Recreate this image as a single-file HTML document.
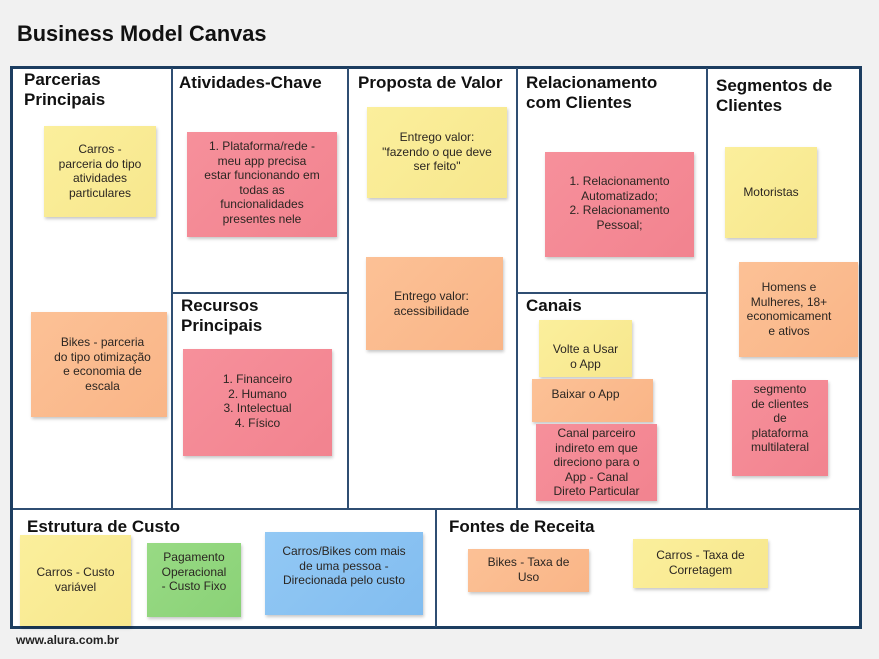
<!DOCTYPE html>
<html>
<head>
<meta charset="utf-8">
<style>
  html,body{margin:0;padding:0;}
  body{width:879px;height:659px;background:#f1f1f1;position:relative;overflow:hidden;font-family:"Liberation Sans",Arial,sans-serif;}
  .abs{position:absolute;}
  .title{position:absolute;left:17px;top:21px;font-size:21.8px;line-height:26px;font-weight:bold;color:#111;white-space:nowrap;}
  .canvas{position:absolute;left:10px;top:66px;width:852px;height:563px;box-sizing:border-box;border:3px solid #1c3d60;background:#fff;}
  .vl{position:absolute;width:2px;background:#2f4e72;}
  .hl{position:absolute;height:2px;background:#2f4e72;}
  .h{position:absolute;font-size:17px;line-height:20px;font-weight:bold;color:#111;white-space:nowrap;}
  .n{position:absolute;box-sizing:border-box;text-align:center;font-size:12px;line-height:14.5px;color:#2b2622;white-space:nowrap;box-shadow:1px 2px 3px rgba(0,0,0,0.22);}
  .y{background:linear-gradient(135deg,#fbef9c,#f7e78d);}
  .r{background:linear-gradient(135deg,#f6909b,#f2838f);}
  .o{background:linear-gradient(135deg,#fcc196,#f9b587);}
  .g{background:linear-gradient(135deg,#98da84,#8ad277);}
  .b{background:linear-gradient(135deg,#92c8f4,#82bdf0);}
  .foot{position:absolute;left:16px;top:633px;font-size:12px;line-height:14px;font-weight:bold;color:#222;white-space:nowrap;}
</style>
</head>
<body>
<div class="title">Business Model Canvas</div>

<div class="canvas"></div>
<!-- vertical dividers top section -->
<div class="vl" style="left:171px;top:68px;height:441px;"></div>
<div class="vl" style="left:347px;top:68px;height:441px;"></div>
<div class="vl" style="left:516px;top:68px;height:441px;"></div>
<div class="vl" style="left:706px;top:68px;height:441px;"></div>
<!-- horizontal divider -->
<div class="hl" style="left:13px;top:508px;width:847px;"></div>
<!-- mid dividers -->
<div class="hl" style="left:172px;top:292px;width:176px;"></div>
<div class="hl" style="left:517px;top:292px;width:190px;"></div>
<!-- bottom vertical -->
<div class="vl" style="left:435px;top:509px;height:118px;"></div>

<!-- headings -->
<div class="h" style="left:24px;top:70px;">Parcerias<br>Principais</div>
<div class="h" style="left:179px;top:72.5px;">Atividades-Chave</div>
<div class="h" style="left:358px;top:72.5px;">Proposta de Valor</div>
<div class="h" style="left:526px;top:73px;">Relacionamento<br>com Clientes</div>
<div class="h" style="left:716px;top:76px;">Segmentos de<br>Clientes</div>
<div class="h" style="left:181px;top:295.5px;">Recursos<br>Principais</div>
<div class="h" style="left:526px;top:296px;">Canais</div>
<div class="h" style="left:27px;top:517px;">Estrutura de Custo</div>
<div class="h" style="left:449px;top:517px;">Fontes de Receita</div>

<!-- notes -->
<div class="n y" style="left:44px;top:126px;width:112px;height:91px;padding-top:16px;">Carros -<br>parceria do tipo<br>atividades<br>particulares</div>
<div class="n r" style="left:187px;top:132px;width:150px;height:105px;padding-top:7px;">1. Plataforma/rede -<br>meu app precisa<br>estar funcionando em<br>todas as<br>funcionalidades<br>presentes nele</div>
<div class="n y" style="left:367px;top:107px;width:140px;height:91px;padding-top:23px;">Entrego valor:<br>"fazendo o que deve<br>ser feito"</div>
<div class="n o" style="left:366px;top:257px;width:137px;height:93px;padding-top:32px;padding-right:6px;">Entrego valor:<br>acessibilidade</div>
<div class="n o" style="left:31px;top:312px;width:136px;height:105px;padding-top:23px;padding-left:7px;">Bikes - parceria<br>do tipo otimização<br>e economia de<br>escala</div>
<div class="n r" style="left:183px;top:349px;width:149px;height:107px;padding-top:23px;">1. Financeiro<br>2. Humano<br>3. Intelectual<br>4. Físico</div>
<div class="n r" style="left:545px;top:152px;width:149px;height:105px;padding-top:22px;">1. Relacionamento<br>Automatizado;<br>2. Relacionamento<br>Pessoal;</div>
<div class="n y" style="left:725px;top:147px;width:92px;height:91px;padding-top:38px;">Motoristas</div>
<div class="n o" style="left:739px;top:262px;width:119px;height:95px;padding-top:18px;padding-right:19px;">Homens e<br>Mulheres, 18+<br>economicament<br>e ativos</div>
<div class="n r" style="left:732px;top:380px;width:96px;height:96px;padding-top:2px;">segmento<br>de clientes<br>de<br>plataforma<br>multilateral</div>
<div class="n y" style="left:539px;top:320px;width:93px;height:57px;padding-top:22px;">Volte a Usar<br>o App</div>
<div class="n o" style="left:532px;top:379px;width:121px;height:43px;padding-top:8px;padding-right:14px;">Baixar o App</div>
<div class="n r" style="left:536px;top:424px;width:121px;height:77px;padding-top:2px;">Canal parceiro<br>indireto em que<br>direciono para o<br>App - Canal<br>Direto Particular</div>

<div class="n y" style="left:20px;top:535px;width:111px;height:91px;padding-top:30px;">Carros - Custo<br>variável</div>
<div class="n g" style="left:147px;top:543px;width:94px;height:74px;padding-top:7px;">Pagamento<br>Operacional<br>- Custo Fixo</div>
<div class="n b" style="left:265px;top:532px;width:158px;height:83px;padding-top:12px;">Carros/Bikes com mais<br>de uma pessoa -<br>Direcionada pelo custo</div>
<div class="n o" style="left:468px;top:549px;width:121px;height:43px;padding-top:6px;">Bikes - Taxa de<br>Uso</div>
<div class="n y" style="left:633px;top:539px;width:135px;height:49px;padding-top:9px;">Carros - Taxa de<br>Corretagem</div>

<div class="foot">www.alura.com.br</div>
</body>
</html>
